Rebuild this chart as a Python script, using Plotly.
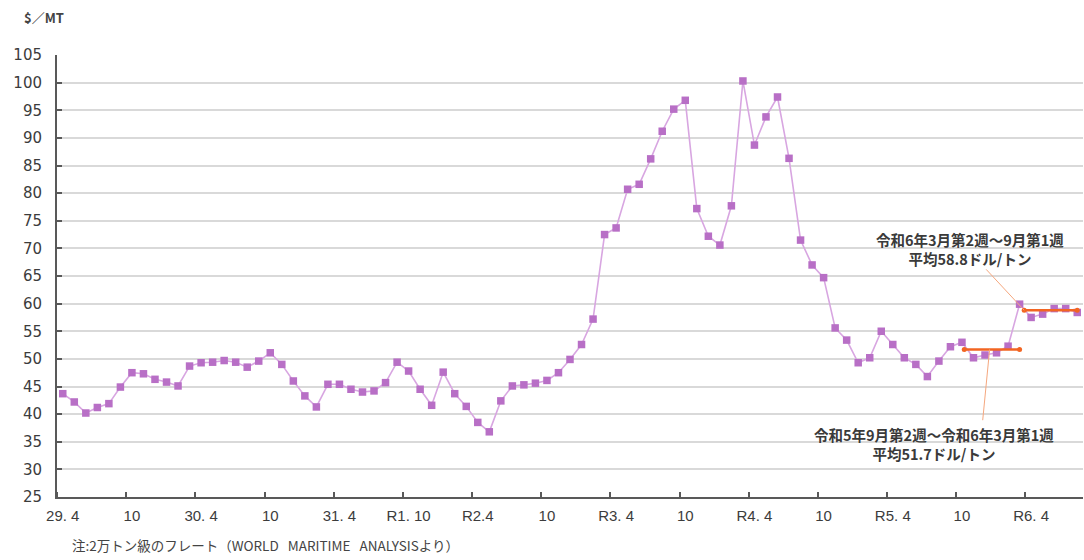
import plotly.graph_objects as go
import pandas as pd

# Monthly freight rate ($/MT), April 2017 (H29.4) through August 2024
months = [p.strftime("%Y-%m") for p in pd.period_range("2017-04", periods=89, freq="M")]
freight = [
    43.7, 42.2, 40.2, 41.2, 41.9, 44.9, 47.5, 47.3, 46.3, 45.8,
    45.1, 48.7, 49.3, 49.4, 49.7, 49.4, 48.5, 49.6, 51.1, 49.0,
    46.0, 43.3, 41.3, 45.4, 45.4, 44.5, 44.0, 44.2, 45.7, 49.4,
    47.8, 44.5, 41.6, 47.6, 43.7, 41.4, 38.5, 36.8, 42.4, 45.1,
    45.3, 45.6, 46.1, 47.5, 49.9, 52.6, 57.2, 72.5, 73.7, 80.7,
    81.6, 86.2, 91.2, 95.2, 96.8, 77.2, 72.2, 70.6, 77.7, 100.3,
    88.7, 93.8, 97.4, 86.3, 71.5, 67.0, 64.7, 55.6, 53.4, 49.3,
    50.2, 55.0, 52.6, 50.2, 49.0, 46.8, 49.6, 52.2, 53.0, 50.2,
    50.7, 51.1, 52.3, 59.9, 57.5, 58.1, 59.1, 59.1, 58.4,
]

# Axis labels, one every six months
tick_labels = ["29. 4", "10", "30. 4", "10", "31. 4", "R1. 10", "R2.4", "10",
               "R3. 4", "10", "R4. 4", "10", "R5. 4", "10", "R6. 4"]

# Period averages (start / end position in month units, average value)
avg_start = [78.2, 83.4]
avg_end = [83.0, 88.0]
avg_values = [51.7, 58.8]
avg_labels = [
    "令和5年9月第2週～令和6年3月第1週<br>平均51.7ドル/トン",
    "令和6年3月第2週～9月第1週<br>平均58.8ドル/トン",
]

x_idx = list(range(len(freight)))
label_pos = x_idx[::6][:len(tick_labels)]
boundary_pos = [p - 0.5 for p in label_pos]
xrange = [-0.5, len(freight) - 0.5]

TXT = "#444444"
AXIS = "#595959"
FONT = "Liberation Sans"
JP = "Noto Sans CJK JP"

fig = go.Figure()

fig.add_trace(go.Scatter(
    x=x_idx, y=freight, mode="lines+markers",
    line=dict(color="#d8a6e1", width=1.6),
    marker=dict(symbol="square", size=7.5, color="#b86fc6"),
    customdata=months, hovertemplate="%{customdata}: %{y}<extra></extra>",
    showlegend=False,
))

for s, e, v in zip(avg_start, avg_end, avg_values):
    fig.add_trace(go.Scatter(
        x=[s, e], y=[v, v], mode="lines+markers",
        line=dict(color="#f26522", width=2.6),
        marker=dict(symbol="circle", size=5, color="#f26522"),
        hoverinfo="skip", showlegend=False,
    ))

# Leader lines from each average bar to its caption
leaders = [
    dict(x0=80.4, y0=avg_values[0], x1=79.8, y1=38.9),
    dict(x0=83.4, y0=avg_values[1], x1=80.1, y1=66.2),
]
for ld in leaders:
    fig.add_shape(type="line", xref="x", yref="y", line=dict(color="#f5a77e", width=1), **ld)

note_font = dict(family=JP, size=14.5, color="#3a3a3a", weight="bold")
fig.add_annotation(x=75.6, y=34.6, text=avg_labels[0], showarrow=False,
                   font=note_font, align="center")
fig.add_annotation(x=78.7, y=69.9, text=avg_labels[1], showarrow=False,
                   font=note_font, align="center")

fig.add_annotation(xref="paper", yref="paper", x=-0.034, y=1.084, xanchor="left",
                   yanchor="middle", text="$／MT", showarrow=False,
                   font=dict(family=JP, size=13, color=TXT, weight="bold"))
fig.add_annotation(xref="paper", yref="paper", x=0.0127, y=-0.1086, xanchor="left",
                   yanchor="middle",
                   text="注:2万トン級のフレート（WORLD&nbsp;&nbsp;&nbsp;MARITIME&nbsp;&nbsp;&nbsp;ANALYSISより）",
                   showarrow=False, font=dict(family=JP, size=13.5, color=TXT))

fig.update_layout(
    width=1084, height=560,
    margin=dict(l=57, r=1, t=55, b=63),
    paper_bgcolor="white", plot_bgcolor="white",
    xaxis=dict(
        range=xrange, tickmode="array", tickvals=label_pos, ticktext=tick_labels,
        ticks="", showgrid=False, zeroline=False,
        showline=True, linecolor=AXIS, linewidth=2,
        tickfont=dict(family=FONT, size=15, color="#3c3c3c"), ticklabelstandoff=4,
        minor=dict(tickmode="array", tickvals=boundary_pos, ticks="inside",
                   ticklen=5, tickwidth=1.5, tickcolor=AXIS, showgrid=False),
    ),
    yaxis=dict(
        range=[25, 105], tickmode="linear", tick0=25, dtick=5,
        showgrid=True, gridcolor="#d9d9d9", gridwidth=2, zeroline=False,
        showline=True, linecolor=AXIS, linewidth=2,
        ticks="inside", ticklen=5, tickwidth=1.5, tickcolor=AXIS,
        tickfont=dict(family="DejaVu Sans", size=15, color="#3c3c3c"), ticklabelstandoff=10,
    ),
)

fig.write_html("out.html")
